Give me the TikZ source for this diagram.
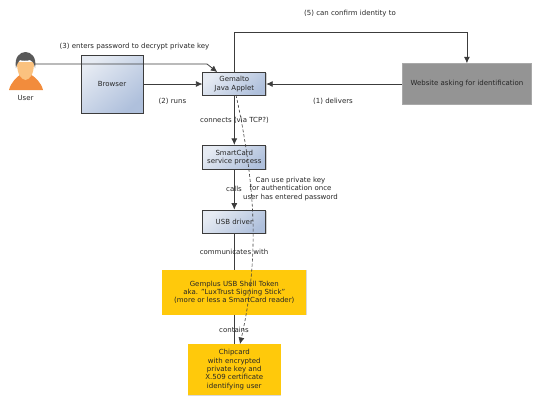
\documentclass[tikz,border=0pt]{standalone}
\usepackage{fontspec}
\setmainfont{DejaVu Sans}
\usetikzlibrary{positioning,arrows.meta,shadows,calc}
\definecolor{boxlight}{HTML}{E6EBF3}
\definecolor{boxdark}{HTML}{AFC0DC}
\definecolor{tokenfill}{HTML}{FFC90B}
\definecolor{sitefill}{HTML}{949494}
\definecolor{linecol}{HTML}{3C3C3C}
\definecolor{skin}{HTML}{FBC27F}
\definecolor{shirt}{HTML}{F28C3C}
\tikzset{
  blk/.style={rectangle, draw=linecol, line width=0.8pt, left color=boxlight, right color=boxdark,
              shading angle=40, text=black!85, align=center, inner sep=0pt, font=\fontsize{7}{8.4}\selectfont,
              general shadow={shadow xshift=0.8pt, shadow yshift=-0.8pt, fill=black, opacity=.18}},
  tok/.style={rectangle, fill=tokenfill, text=black!85, align=center, inner sep=0pt,
              font=\fontsize{7}{8.4}\selectfont,
              general shadow={shadow xshift=0.6pt, shadow yshift=-0.6pt, fill=black, opacity=.15}},
  lbl/.style={text=black!85, align=center, inner sep=0pt, font=\fontsize{7}{8.4}\selectfont},
  flowarr/.style={-{Latex[length=6.5pt,width=6pt]}, draw=linecol, line width=0.8pt},
}
\begin{document}
\begin{tikzpicture}[x=1pt,y=-1pt]
\useasboundingbox (0,0) rectangle (540,405);
% user figure
\fill[shirt] (9,90) .. controls (11,82) and (17,77) .. (21,74) -- (30,74) .. controls (35,77) and (41,82) .. (43,90) -- cycle;
\fill[skin] (17,62) .. controls (17,75) and (21,79) .. (25.5,80) .. controls (30,79) and (34,75) .. (34,62) -- cycle;
\fill[black!65] (16,68) .. controls (14,57) and (20,52) .. (25.5,52) .. controls (31,52) and (37,57) .. (35,68) .. controls (34,63) and (33,61) .. (30,60) .. controls (27,61) and (22,61) .. (20,60) .. controls (18,62) and (17,64) .. (16,68) -- cycle;
\coordinate (usr) at (35,64);
\node[lbl] (usrlbl) at (25.5,98) {User};
% boxes
\node[blk, minimum width=62pt, minimum height=58pt] (browser) at (112,84) {Browser};
\node[blk, minimum width=63pt, minimum height=23pt, right=59pt of browser] (applet) {Gemalto\\ Java Applet};
\node[rectangle, fill=sitefill, draw=sitefill!80!white, text=black!85, inner sep=0pt, minimum width=129pt, minimum height=41pt,
      font=\fontsize{7}{8.4}\selectfont, right=136pt of applet] (site) {Website asking for identification};
\node[blk, minimum width=63pt, minimum height=24pt, below=49pt of applet] (svc) {SmartCard\\ service process};
\node[blk, minimum width=63pt, minimum height=23pt, below=40pt of svc] (usb) {USB driver};
\node[tok, minimum width=144pt, minimum height=45pt, below=36pt of usb] (token) {Gemplus USB Shell Token\\ aka. "LuxTrust Signing Stick"\\ (more or less a SmartCard reader)};
\node[tok, minimum width=93pt, minimum height=51pt, below=29pt of token] (chip) {Chipcard\\ with encrypted\\ private key and\\ X.509 certificate\\ identifying user};
% connectors
\coordinate (bend) at (207,64);
\coordinate (bendtop) at ($(applet.north)+(-17,0)$);
\draw[flowarr] (usr) -- (bend) -- (bendtop);
\draw[flowarr] (browser.east) -- (applet.west);
\draw[flowarr] (site.west) -- (applet.east);
\coordinate (upleft) at (applet.north |- 0,32);
\coordinate (upright) at (site.north |- 0,32);
\draw[flowarr] (applet.north) -- (upleft) -- (upright) -- (site.north);
\draw[flowarr] (applet.south) -- (svc.north);
\draw[flowarr] (svc.south) -- (usb.north);
\draw[draw=linecol, line width=0.8pt] (usb.south) -- (token.north);
\draw[draw=linecol, line width=0.8pt] (token.south) -- (chip.north);
\coordinate (dashstart) at (236,95);
\coordinate (dashend) at (240,344);
\draw[flowarr, dash pattern=on 3pt off 2pt, line width=0.6pt] (dashstart) .. controls (246,140) and (252,185) .. (253,222)
  .. controls (254,262) and (250,300) .. (dashend);
% labels
\node[lbl] (lenter) at (134.5,46.5) {(3) enters password to decrypt private key};
\node[lbl] (lconfirm) at (350,13.5) {(5) can confirm identity to};
\node[lbl] (lruns) at (172.5,101) {(2) runs};
\node[lbl] (ldeliv) at (333,101) {(1) delivers};
\node[lbl] (lconn) at (234.5,120) {connects (via TCP?)};
\node[lbl] (lcalls) at (234,189) {calls};
\node[lbl] (lcan) at (290.5,189) {Can use private key\\ for authentication once\\ user has entered password};
\node[lbl] (lcomm) at (234,252) {communicates with};
\node[lbl] (lcont) at (234,330) {contains};
\end{tikzpicture}
\end{document}
